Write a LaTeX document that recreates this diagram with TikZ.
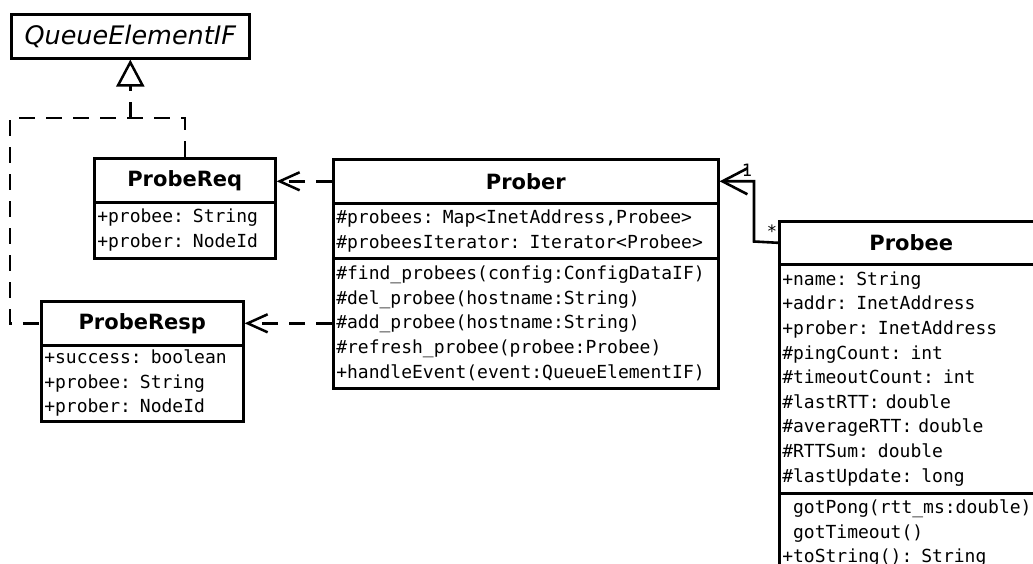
\documentclass[tikz,border=0pt]{standalone}
\usepackage{fontspec}
\setmainfont{DejaVu Sans}
\newfontfamily\umlmono{DejaVu Sans Mono}
\usetikzlibrary{arrows.meta}
\begin{document}
\begin{tikzpicture}[x=1pt,y=-1pt,
  box/.style={draw, line width=2.6pt, inner sep=0pt, anchor=north west, fill=white},
  hdr/.style={box, font={\fontsize{21}{25}\selectfont\bfseries}},
  iface/.style={box, font={\fontsize{25.5}{30}\selectfont\itshape}},
  mem/.style={box, align=left, inner xsep=3pt, font={\umlmono\fontsize{18}{24.6}\selectfont}},
  dep/.style={line width=2.5pt, dash pattern=on 16pt off 11pt},
  assoc/.style={line width=2.6pt},
  lbl/.style={font={\umlmono\fontsize{17}{19}\selectfont}, inner sep=0pt}
]
\useasboundingbox (0,0) rectangle (1033,564);
\clip (0,0) rectangle (1033,564);
\fill[white] (0,0) rectangle (1033,564);

% interface
\node[iface, minimum width=238pt, minimum height=44pt] (qe) at (10,13) {QueueElementIF};

% ProbeReq
\node[hdr, minimum width=181pt, minimum height=44pt] (reqH) at (93,157) {ProbeReq};
\node[mem, text width=175pt, minimum height=56pt] (reqA) at (93,201) {+probee: String\\+prober: NodeId};

% ProbeResp
\node[hdr, minimum width=202pt, minimum height=44pt] (respH) at (40,300) {ProbeResp};
\node[mem, text width=196pt, minimum height=76pt] (respA) at (40,344) {+success: boolean\\+probee: String\\+prober: NodeId};

% Prober
\node[hdr, minimum width=385pt, minimum height=44pt] (prH) at (332,158) {Prober};
\node[mem, text width=379pt, minimum height=55pt] (prA) at (332,202) {\#probees: Map<InetAddress,Probee>\\\#probeesIterator: Iterator<Probee>};
\node[mem, text width=379pt, minimum height=130pt] (prM) at (332,257) {\#find\_probees(config:ConfigDataIF)\\\#del\_probee(hostname:String)\\\#add\_probee(hostname:String)\\\#refresh\_probee(probee:Probee)\\+handleEvent(event:QueueElementIF)};

% Probee
\node[hdr, minimum width=264pt, minimum height=43pt] (peH) at (778,220) {Probee};
\node[mem, text width=258pt, minimum height=229pt] (peA) at (778,263) {+name: String\\+addr: InetAddress\\+prober: InetAddress\\\#pingCount: int\\\#timeoutCount: int\\\#lastRTT: double\\\#averageRTT: double\\\#RTTSum: double\\\#lastUpdate: long};
\node[mem, text width=258pt, minimum height=80pt] (peM) at (778,492) {\phantom{+}gotPong(rtt\_ms:double)\\\phantom{+}gotTimeout()\\+toString(): String};

% realization
\coordinate (j) at (qe.south |- 0,118);
\coordinate (lc) at (10,118);
\draw[dep] (reqH.north) |- (lc) |- (respH.west);
\draw[dep, -{Triangle[open, length=27pt, width=28pt]}] (j) -- (qe.south);

% dependencies
\draw[dep, -{Straight Barb[length=20pt, width=18pt]}] (prH.west) -- (prH.west -| reqH.east);
\coordinate (pa) at (prM.west |- respH.east);
\draw[dep, -{Straight Barb[length=20pt, width=18pt]}] (pa) -- (respH.east);

% association
\coordinate (bx) at (754,241.5);
\draw[assoc, -{Straight Barb[length=25pt, width=26pt]}] (peH.west) -- (bx) |- (prH.east);
\node[lbl] (one) at (747,170) {1};
\node[lbl] (star) at (772,231) {*};
\end{tikzpicture}
\end{document}
